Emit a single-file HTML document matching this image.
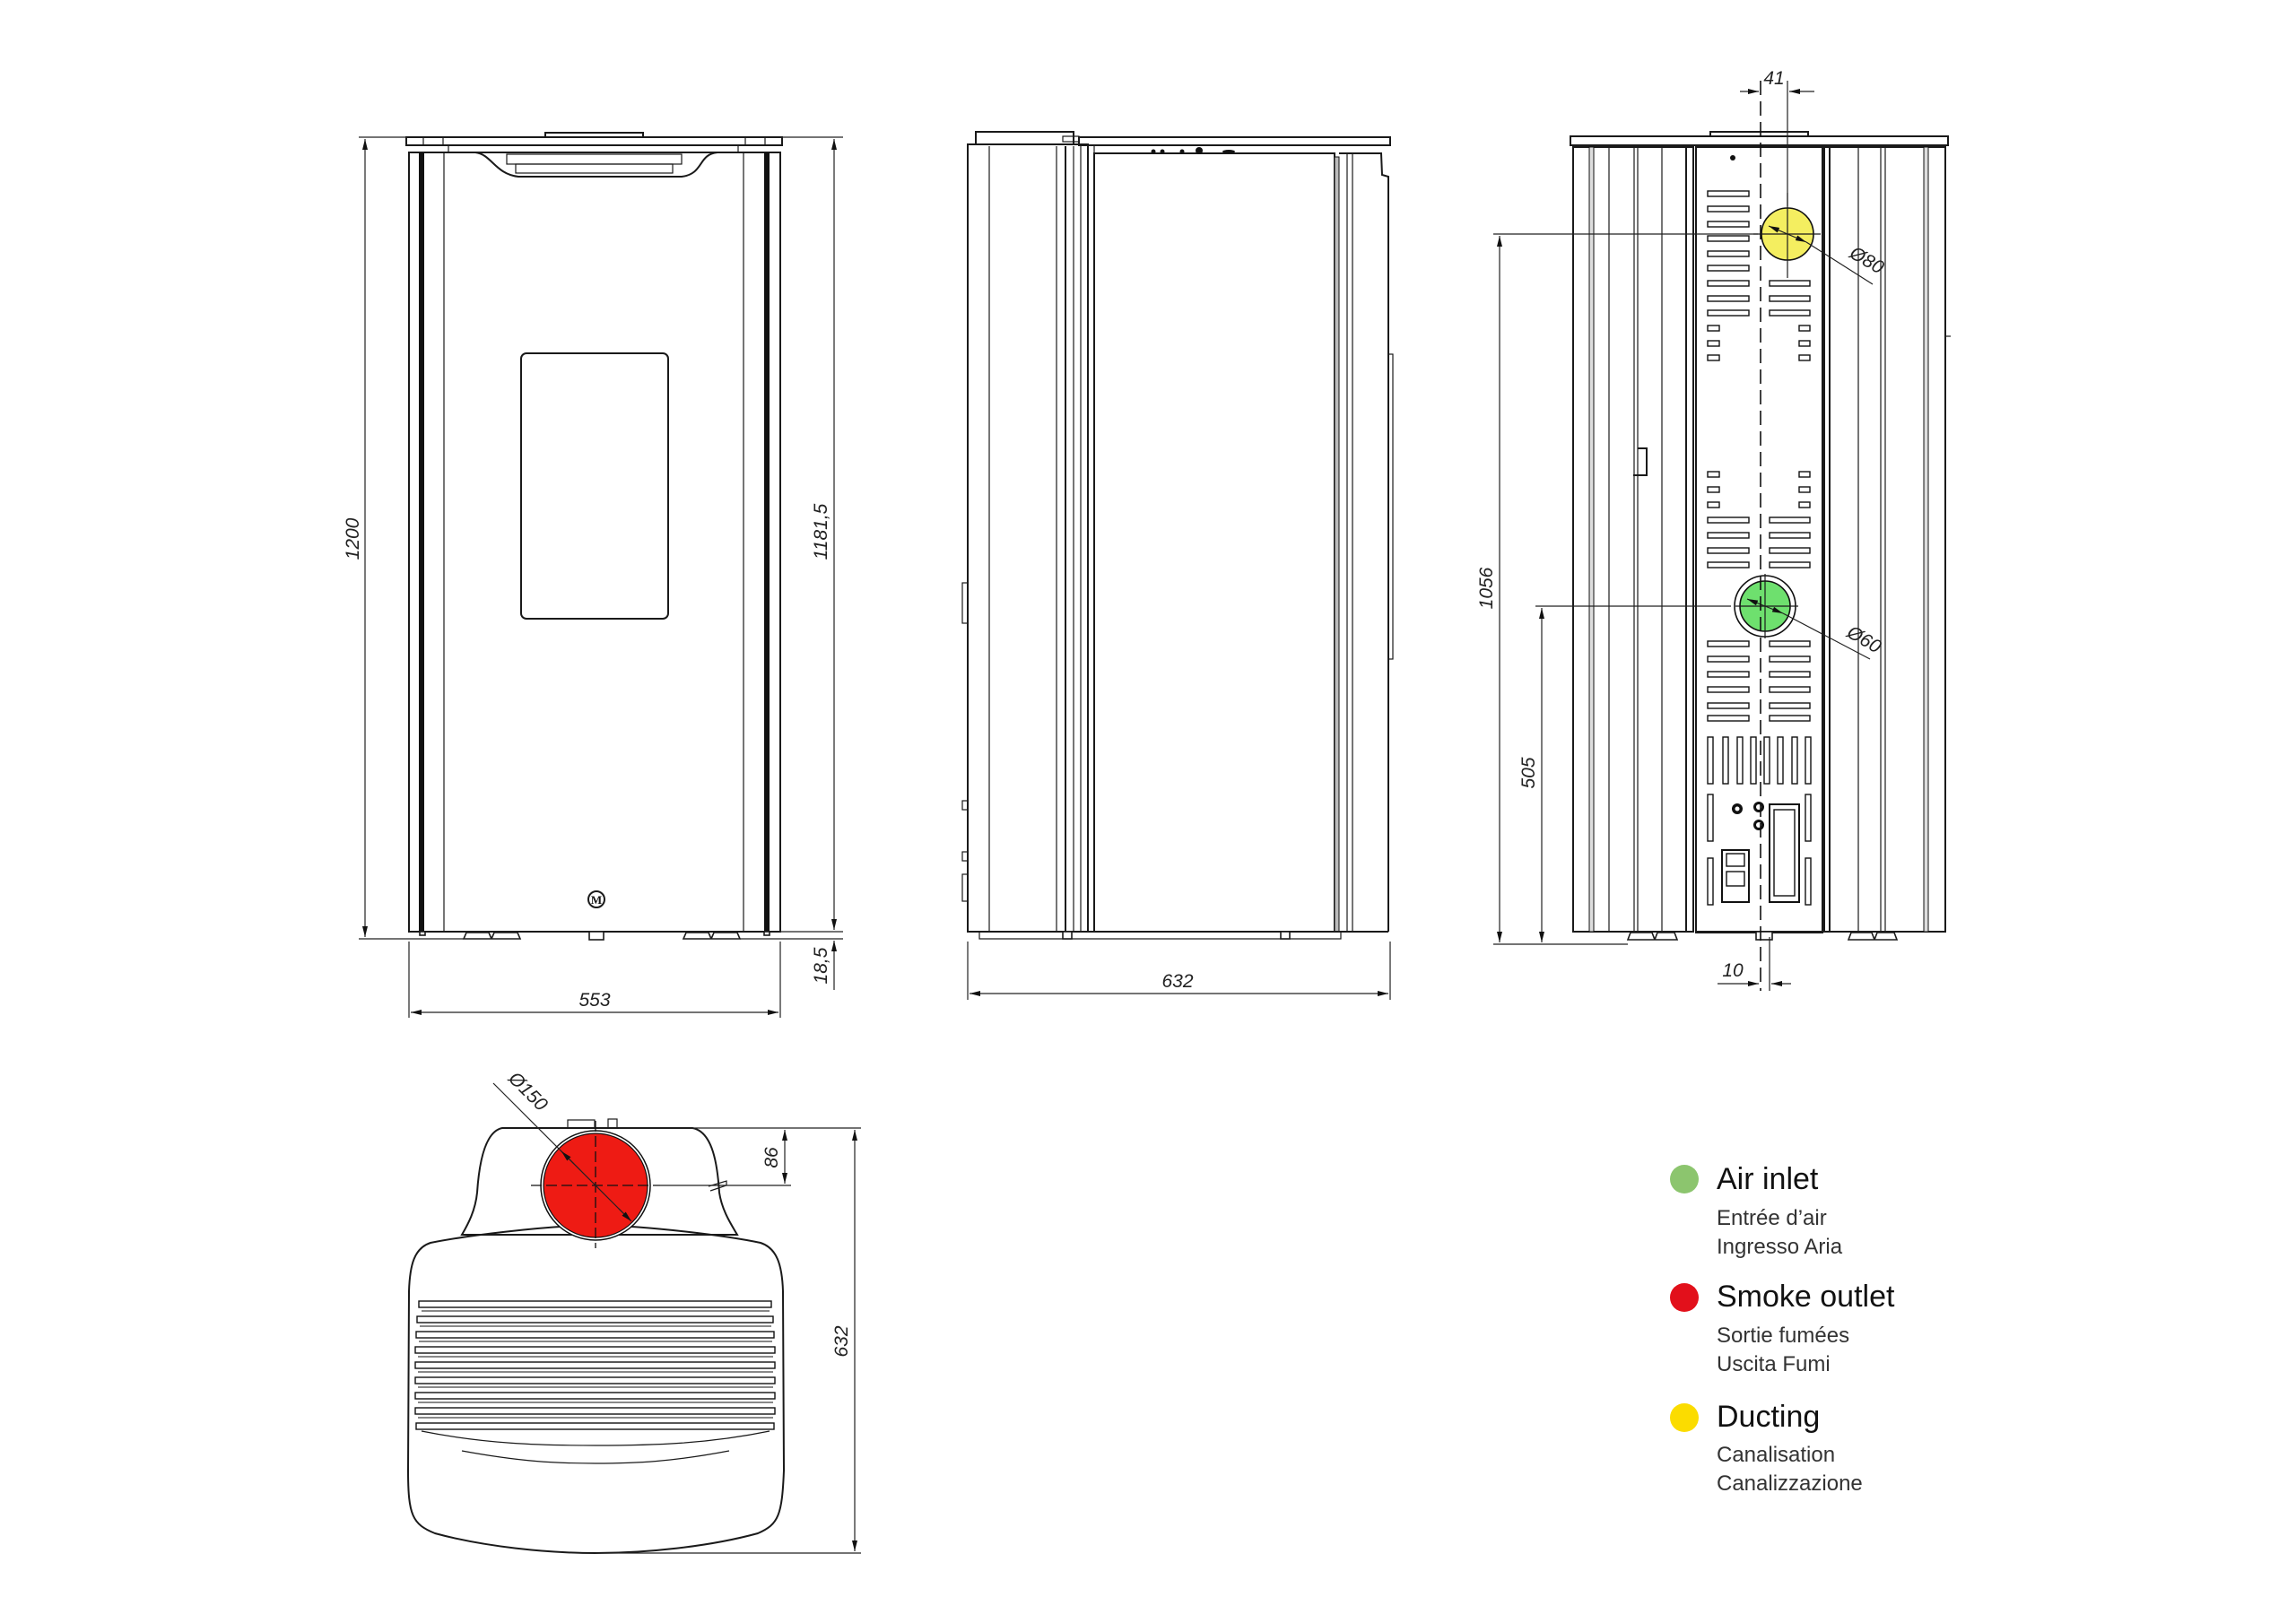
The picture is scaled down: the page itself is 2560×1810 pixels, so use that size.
<!DOCTYPE html>
<html><head><meta charset="utf-8"><style>
html,body{margin:0;padding:0;background:#fff}
svg{display:block}
.o{fill:none;stroke:#1a1a1a;stroke-width:2}
.t{fill:none;stroke:#1a1a1a;stroke-width:1.2}
.d{fill:none;stroke:#222;stroke-width:1.2}
.s{fill:#fff;stroke:#1a1a1a;stroke-width:1.6}
.lab{font-family:"Liberation Sans",sans-serif;font-style:italic;font-size:21px;fill:#222}
</style></head><body>
<svg width="2560" height="1810" viewBox="0 0 2560 1810" xmlns="http://www.w3.org/2000/svg">
<defs>
<marker id="a" viewBox="0 0 12 6" refX="12" refY="3" markerWidth="12" markerHeight="6" orient="auto-start-reverse" markerUnits="userSpaceOnUse"><path d="M0,0 L12,3 L0,6 z" fill="#111"/></marker>
</defs>

<!-- ============ FRONT VIEW ============ -->
<g>
<rect x="608" y="148" width="109" height="5" class="o"/>
<rect x="453" y="153" width="419" height="9" class="o"/>
<line x1="472" y1="153" x2="472" y2="162" class="t"/><line x1="494" y1="153" x2="494" y2="162" class="t"/>
<line x1="831" y1="153" x2="831" y2="162" class="t"/><line x1="853" y1="153" x2="853" y2="162" class="t"/>
<rect x="500" y="162" width="323" height="8" class="t"/>
<rect x="456" y="170" width="414" height="869" class="o"/>
<rect x="467" y="170" width="6" height="869" fill="#111"/>
<rect x="852" y="170" width="6" height="869" fill="#111"/>
<line x1="495" y1="170" x2="495" y2="1039" class="t"/>
<line x1="829" y1="170" x2="829" y2="1039" class="t"/>
<path d="M530,170 C548,172 552,194 578,197 L760,197 C785,194 778,172 800,170" class="o" fill="#fff"/>
<rect x="565" y="172" width="195" height="11" class="t"/>
<rect x="575" y="183" width="175" height="10" class="t"/>
<rect x="581" y="394" width="164" height="296" rx="6" class="o"/>
<circle cx="665" cy="1003" r="9" class="o"/>
<text x="665" y="1008" font-family="Liberation Serif,serif" font-size="13" font-weight="bold" text-anchor="middle" fill="#111">M</text>
<line x1="456" y1="1039" x2="870" y2="1039" class="o"/>
<path d="M517,1047 L548,1047 L545,1040 L520,1040 z M548,1047 L580,1047 L577,1040 L551,1040 z" class="s"/>
<path d="M762,1047 L793,1047 L790,1040 L765,1040 z M793,1047 L825,1047 L822,1040 L796,1040 z" class="s"/>
<rect x="657" y="1039" width="16" height="9" class="s"/>
<rect x="468" y="1039" width="6" height="4" class="s"/><rect x="852" y="1039" width="6" height="4" class="s"/>
<!-- dims -->
<line x1="400" y1="153" x2="453" y2="153" class="d"/>
<line x1="400" y1="1047" x2="517" y2="1047" class="d"/>
<line x1="407" y1="155" x2="407" y2="1045" class="d" marker-start="url(#a)" marker-end="url(#a)"/>
<text class="lab" transform="translate(400,601) rotate(-90)" text-anchor="middle">1200</text>
<line x1="872" y1="153" x2="940" y2="153" class="d"/>
<line x1="870" y1="1039" x2="940" y2="1039" class="d"/>
<line x1="825" y1="1047" x2="940" y2="1047" class="d"/>
<line x1="930" y1="155" x2="930" y2="1037" class="d" marker-start="url(#a)" marker-end="url(#a)"/>
<text class="lab" transform="translate(922,593) rotate(-90)" text-anchor="middle">1181,5</text>
<line x1="930" y1="1049" x2="930" y2="1104" class="d" marker-start="url(#a)"/>
<text class="lab" transform="translate(922,1077) rotate(-90)" text-anchor="middle">18,5</text>
<line x1="456" y1="1050" x2="456" y2="1135" class="d"/>
<line x1="870" y1="1050" x2="870" y2="1135" class="d"/>
<line x1="458" y1="1129" x2="868" y2="1129" class="d" marker-start="url(#a)" marker-end="url(#a)"/>
<text class="lab" x="663" y="1122" text-anchor="middle">553</text>
</g>

<!-- ============ SIDE VIEW ============ -->
<g>
<rect x="1088" y="147" width="109" height="14" class="o"/>
<rect x="1203" y="153" width="347" height="9" class="o"/>
<rect x="1185" y="152" width="18" height="6" class="t"/>
<line x1="1079" y1="161" x2="1210" y2="161" class="o"/>
<rect x="1079" y="161" width="134" height="878" class="o"/>
<line x1="1103" y1="163" x2="1103" y2="1039" class="t"/>
<line x1="1178" y1="163" x2="1178" y2="1039" class="t"/>
<line x1="1188" y1="163" x2="1188" y2="1039" class="o"/>
<line x1="1197" y1="163" x2="1197" y2="1039" class="t"/>
<line x1="1205" y1="163" x2="1205" y2="1039" class="t"/>
<rect x="1213" y="162" width="7" height="877" class="t"/>
<line x1="1216" y1="162" x2="1520" y2="162" class="t"/>
<rect x="1220" y="171" width="268" height="868" class="o"/>
<circle cx="1286" cy="169" r="2.5" fill="#111"/><circle cx="1296" cy="169" r="2.5" fill="#111"/><circle cx="1318" cy="169" r="2.5" fill="#111"/><circle cx="1337" cy="168" r="4" fill="#111"/><ellipse cx="1370" cy="169" rx="7" ry="2" fill="#111"/>
<rect x="1488" y="175" width="5" height="864" fill="#bbb" stroke="#111" stroke-width="1"/>
<line x1="1502" y1="171" x2="1502" y2="1039" class="t"/>
<line x1="1508" y1="171" x2="1508" y2="1039" class="t"/>
<path d="M1493,171 L1540,171 L1541,195 L1548,197 L1548,1039" class="o"/>
<rect x="1548" y="395" width="5" height="340" class="t"/>
<rect x="1073" y="650" width="6" height="45" class="t"/>
<rect x="1073" y="893" width="6" height="10" class="t"/>
<rect x="1073" y="950" width="6" height="10" class="t"/>
<rect x="1073" y="975" width="6" height="30" class="t"/>
<line x1="1079" y1="1039" x2="1548" y2="1039" class="o"/>
<path d="M1092,1047 L1495,1047 L1495,1039 L1092,1039 z" class="t"/>
<rect x="1185" y="1039" width="10" height="8" class="s"/><rect x="1428" y="1039" width="10" height="8" class="s"/>
<line x1="1079" y1="1050" x2="1079" y2="1115" class="d"/>
<line x1="1550" y1="1050" x2="1550" y2="1115" class="d"/>
<line x1="1081" y1="1108" x2="1548" y2="1108" class="d" marker-start="url(#a)" marker-end="url(#a)"/>
<text class="lab" x="1313" y="1101" text-anchor="middle">632</text>
</g>

<!-- ============ BACK VIEW ============ -->
<g>
<rect x="1907" y="147" width="109" height="5" class="o"/>
<rect x="1751" y="152" width="421" height="10" class="o"/>
<line x1="1790" y1="162" x2="2130" y2="162" class="t"/>
<!-- left columns -->
<rect x="1754" y="164" width="134" height="875" class="o"/>
<rect x="1772" y="164" width="5" height="875" fill="#ddd" stroke="#111" stroke-width="1"/>
<line x1="1794" y1="164" x2="1794" y2="1039" class="t"/>
<line x1="1822" y1="164" x2="1822" y2="1039" class="t"/>
<line x1="1826" y1="164" x2="1826" y2="1039" class="t"/>
<line x1="1853" y1="164" x2="1853" y2="1039" class="t"/>
<line x1="1880" y1="164" x2="1880" y2="1039" class="o"/>
<path d="M1826,500 L1836,500 L1836,530 L1821,530" class="o"/>
<!-- right columns -->
<rect x="2034" y="164" width="135" height="875" class="o"/>
<line x1="2040" y1="164" x2="2040" y2="1039" class="o"/>
<line x1="2072" y1="164" x2="2072" y2="1039" class="t"/>
<line x1="2097" y1="164" x2="2097" y2="1039" class="t"/>
<line x1="2102" y1="164" x2="2102" y2="1039" class="t"/>
<rect x="2145" y="164" width="5" height="875" fill="#ddd" stroke="#111" stroke-width="1"/>
<line x1="2169" y1="375" x2="2175" y2="375" class="t"/>
<!-- center panel -->
<rect x="1891" y="164" width="141" height="876" class="o"/>
<circle cx="1932" cy="176" r="3" fill="#111"/>
<g fill="#fff" stroke="#111" stroke-width="1.4">
<rect x="1904" y="213" width="46" height="6"/><rect x="1904" y="230" width="46" height="6"/><rect x="1904" y="247" width="46" height="6"/><rect x="1904" y="263" width="46" height="6"/><rect x="1904" y="280" width="46" height="6"/><rect x="1904" y="296" width="46" height="6"/><rect x="1904" y="313" width="46" height="6"/><rect x="1904" y="330" width="46" height="6"/><rect x="1904" y="346" width="46" height="6"/>
<rect x="1973" y="313" width="45" height="6"/><rect x="1973" y="330" width="45" height="6"/><rect x="1973" y="346" width="45" height="6"/>
<rect x="1904" y="363" width="13" height="6"/><rect x="1904" y="380" width="13" height="6"/><rect x="1904" y="396" width="13" height="6"/>
<rect x="2006" y="363" width="12" height="6"/><rect x="2006" y="380" width="12" height="6"/><rect x="2006" y="396" width="12" height="6"/>
<rect x="1904" y="526" width="13" height="6"/><rect x="1904" y="543" width="13" height="6"/><rect x="1904" y="560" width="13" height="6"/>
<rect x="2006" y="526" width="12" height="6"/><rect x="2006" y="543" width="12" height="6"/><rect x="2006" y="560" width="12" height="6"/>
<rect x="1904" y="577" width="46" height="6"/><rect x="1904" y="594" width="46" height="6"/><rect x="1904" y="611" width="46" height="6"/><rect x="1904" y="627" width="46" height="6"/>
<rect x="1973" y="577" width="45" height="6"/><rect x="1973" y="594" width="45" height="6"/><rect x="1973" y="611" width="45" height="6"/><rect x="1973" y="627" width="45" height="6"/>
<rect x="1904" y="715" width="46" height="6"/><rect x="1904" y="732" width="46" height="6"/><rect x="1904" y="749" width="46" height="6"/><rect x="1904" y="766" width="46" height="6"/><rect x="1904" y="784" width="46" height="6"/><rect x="1904" y="798" width="46" height="6"/>
<rect x="1973" y="715" width="45" height="6"/><rect x="1973" y="732" width="45" height="6"/><rect x="1973" y="749" width="45" height="6"/><rect x="1973" y="766" width="45" height="6"/><rect x="1973" y="784" width="45" height="6"/><rect x="1973" y="798" width="45" height="6"/>
<rect x="1904" y="822" width="6" height="52"/><rect x="1921" y="822" width="6" height="52"/><rect x="1937" y="822" width="6" height="52"/><rect x="1952" y="822" width="6" height="52"/><rect x="1967" y="822" width="6" height="52"/><rect x="1982" y="822" width="6" height="52"/><rect x="1998" y="822" width="6" height="52"/><rect x="2013" y="822" width="6" height="52"/>
<rect x="1904" y="886" width="6" height="52"/><rect x="1904" y="957" width="6" height="52"/>
<rect x="2013" y="886" width="6" height="52"/><rect x="2013" y="957" width="6" height="52"/>
<rect x="1973" y="897" width="33" height="109" stroke-width="2"/><rect x="1978" y="903" width="23" height="96"/>
<rect x="1920" y="948" width="30" height="58" stroke-width="2"/><rect x="1925" y="952" width="20" height="14"/><rect x="1925" y="972" width="20" height="16"/>
</g>
<circle cx="1937" cy="902" r="6" fill="#111"/><circle cx="1937" cy="902" r="2.5" fill="#fff"/>
<circle cx="1961" cy="900" r="6" fill="#111"/><circle cx="1961" cy="900" r="3" fill="#fff"/>
<circle cx="1961" cy="920" r="6" fill="#111"/><circle cx="1961" cy="920" r="3" fill="#fff"/>
<line x1="1891" y1="1039" x2="2032" y2="1039" class="o"/>
<path d="M1815,1048 L1845,1048 L1842,1040 L1818,1040 z M1845,1048 L1870,1048 L1867,1040 L1848,1040 z" class="s"/>
<path d="M2061,1048 L2090,1048 L2087,1040 L2064,1040 z M2090,1048 L2115,1048 L2112,1040 L2093,1040 z" class="s"/>
<rect x="1958" y="1039" width="18" height="9" class="s"/>
<!-- yellow -->
<circle cx="1993" cy="261" r="29" fill="#f4ee60" stroke="#111" stroke-width="1.6"/>
<line x1="1993" y1="215" x2="1993" y2="310" class="t"/>
<line x1="1955" y1="261" x2="2030" y2="261" class="t"/>
<line x1="1972" y1="252" x2="2014" y2="270" class="d" marker-start="url(#a)" marker-end="url(#a)"/>
<line x1="2014" y1="270" x2="2088" y2="317" class="d"/>
<!-- green -->
<circle cx="1968" cy="676" r="34" fill="#fff" stroke="#111" stroke-width="1.6"/>
<circle cx="1968" cy="676" r="28" fill="#6ee06e" stroke="#111" stroke-width="1.6"/>
<line x1="1968" y1="640" x2="1968" y2="712" class="t"/>
<line x1="1935" y1="676" x2="2005" y2="676" class="t"/>
<line x1="1948" y1="668" x2="1988" y2="684" class="d" marker-start="url(#a)" marker-end="url(#a)"/>
<line x1="1988" y1="684" x2="2085" y2="735" class="d"/>
<!-- center dashed -->
<line x1="1963" y1="90" x2="1963" y2="1105" stroke="#111" stroke-width="1.6" stroke-dasharray="16,7"/>
<line x1="1993" y1="90" x2="1993" y2="230" class="d"/>
<line x1="1940" y1="102" x2="1961" y2="102" class="d" marker-end="url(#a)"/>
<line x1="2023" y1="102" x2="1995" y2="102" class="d" marker-end="url(#a)"/>
<text class="lab" x="1978" y="94" text-anchor="middle">41</text>
<line x1="1973" y1="1045" x2="1973" y2="1105" class="d"/>
<line x1="1915" y1="1097" x2="1961" y2="1097" class="d" marker-end="url(#a)"/>
<line x1="1997" y1="1097" x2="1975" y2="1097" class="d" marker-end="url(#a)"/>
<text class="lab" x="1932" y="1089" text-anchor="middle">10</text>
<line x1="1665" y1="261" x2="1960" y2="261" class="d"/>
<line x1="1712" y1="676" x2="1930" y2="676" class="d"/>
<line x1="1665" y1="1053" x2="1815" y2="1053" class="d"/>
<line x1="1672" y1="263" x2="1672" y2="1051" class="d" marker-start="url(#a)" marker-end="url(#a)"/>
<line x1="1719" y1="678" x2="1719" y2="1051" class="d" marker-start="url(#a)" marker-end="url(#a)"/>
<text class="lab" transform="translate(1664,656) rotate(-90)" text-anchor="middle">1056</text>
<text class="lab" transform="translate(1711,862) rotate(-90)" text-anchor="middle">505</text>
<text class="lab" transform="translate(2078,296) rotate(30)" text-anchor="middle">Ø80</text>
<text class="lab" transform="translate(2075,719) rotate(30)" text-anchor="middle">Ø60</text>
</g>

<!-- ============ TOP VIEW ============ -->
<g>
<path d="M560,1258 L772,1258 C795,1262 800,1300 802,1330 C805,1350 815,1365 822,1377 L515,1377 C522,1365 530,1350 532,1330 C534,1300 540,1262 560,1258 z" class="o" fill="#fff"/>
<rect x="633" y="1249" width="30" height="9" class="t"/><rect x="678" y="1248" width="10" height="10" class="t"/>
<path d="M790,1323 L810,1317 L810,1322 L792,1328" class="t"/>
<path d="M480,1386 C520,1378 600,1368 664,1366 C730,1368 810,1378 848,1386 C866,1392 872,1410 873,1440 L874,1640 C872,1690 868,1700 845,1710 C790,1725 720,1732 664,1732 C610,1732 540,1725 485,1710 C460,1700 455,1690 455,1640 L456,1440 C457,1410 462,1392 480,1386 z" class="o" fill="#fff"/>
<circle cx="664" cy="1322" r="61" fill="#fff" stroke="#111" stroke-width="1.5"/>
<circle cx="664" cy="1322" r="58" fill="#ee1b14" stroke="#111" stroke-width="1.2"/>
<line x1="664" y1="1250" x2="664" y2="1392" stroke="#111" stroke-width="1.3" stroke-dasharray="12,5"/>
<line x1="592" y1="1322" x2="736" y2="1322" stroke="#111" stroke-width="1.3" stroke-dasharray="12,5"/>
<line x1="550" y1="1208" x2="703" y2="1361" class="d"/>
<line x1="640" y1="1298" x2="626" y2="1284" class="d" marker-end="url(#a)"/>
<line x1="690" y1="1348" x2="704" y2="1362" class="d" marker-end="url(#a)"/>
<g fill="#fff" stroke="#111" stroke-width="1.4">
<rect x="467" y="1451" width="393" height="7"/>
<rect x="465" y="1468" width="397" height="7"/>
<rect x="464" y="1485" width="399" height="7"/>
<rect x="463" y="1502" width="401" height="7"/>
<rect x="463" y="1519" width="401" height="7"/>
<rect x="463" y="1536" width="401" height="7"/>
<rect x="463" y="1553" width="401" height="7"/>
<rect x="463" y="1570" width="401" height="7"/>
<rect x="464" y="1587" width="399" height="7"/>
</g>
<g stroke="#111" stroke-width="1">
<line x1="470" y1="1462" x2="858" y2="1462"/><line x1="468" y1="1479" x2="860" y2="1479"/><line x1="467" y1="1496" x2="861" y2="1496"/><line x1="466" y1="1513" x2="862" y2="1513"/><line x1="466" y1="1530" x2="862" y2="1530"/><line x1="466" y1="1547" x2="862" y2="1547"/><line x1="466" y1="1564" x2="862" y2="1564"/><line x1="466" y1="1581" x2="862" y2="1581"/>
</g>
<path d="M470,1596 C540,1610 600,1612 664,1612 C730,1612 790,1610 858,1596" class="t"/>
<path d="M515,1618 C580,1630 620,1632 664,1632 C710,1632 750,1630 813,1618" class="t"/>
<line x1="690" y1="1258" x2="960" y2="1258" class="d"/>
<line x1="736" y1="1322" x2="882" y2="1322" class="d"/>
<line x1="664" y1="1732" x2="960" y2="1732" class="d"/>
<line x1="875" y1="1260" x2="875" y2="1320" class="d" marker-start="url(#a)" marker-end="url(#a)"/>
<line x1="953" y1="1260" x2="953" y2="1730" class="d" marker-start="url(#a)" marker-end="url(#a)"/>
<text class="lab" transform="translate(867,1291) rotate(-90)" text-anchor="middle">86</text>
<text class="lab" transform="translate(945,1496) rotate(-90)" text-anchor="middle">632</text>
<text class="lab" transform="translate(584,1222) rotate(45)" text-anchor="middle">Ø150</text>
</g>

<!-- ============ LEGEND ============ -->
<g font-family="Liberation Sans, sans-serif">
<circle cx="1878" cy="1315" r="16" fill="#8cc56e"/>
<text x="1914" y="1326" font-size="34" fill="#111">Air inlet</text>
<text x="1914" y="1366" font-size="24" fill="#333">Entrée d’air</text>
<text x="1914" y="1398" font-size="24" fill="#333">Ingresso Aria</text>
<circle cx="1878" cy="1447" r="16" fill="#e2101b"/>
<text x="1914" y="1457" font-size="34" fill="#111">Smoke outlet</text>
<text x="1914" y="1497" font-size="24" fill="#333">Sortie fumées</text>
<text x="1914" y="1529" font-size="24" fill="#333">Uscita Fumi</text>
<circle cx="1878" cy="1581" r="16" fill="#fbdc00"/>
<text x="1914" y="1591" font-size="34" fill="#111">Ducting</text>
<text x="1914" y="1630" font-size="24" fill="#333">Canalisation</text>
<text x="1914" y="1662" font-size="24" fill="#333">Canalizzazione</text>
</g>
</svg>
</body></html>
